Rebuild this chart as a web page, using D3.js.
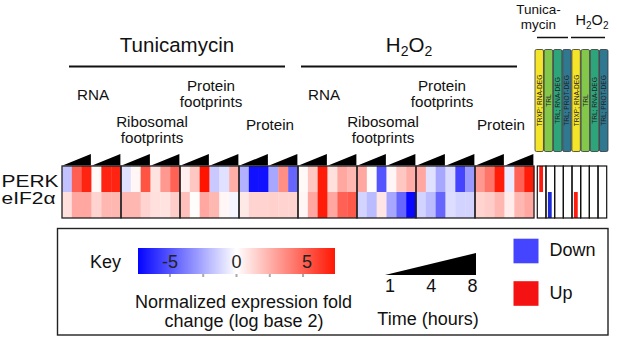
<!DOCTYPE html>
<html><head><meta charset="utf-8">
<script src="https://cdn.jsdelivr.net/npm/d3@7"></script>
<style>body{margin:0;background:#fff} svg{display:block;font-family:"Liberation Sans",Arial,sans-serif}</style>
</head><body><svg id="c" width="617" height="337"></svg>
<script>
// ---------- data ----------
const treatments = ["Tunicamycin", "H2O2"];
const dataTypes = ["RNA", "Ribosomal footprints", "Protein footprints", "Protein"];
const timePoints = [1, 4, 8];
const seriesPerType = 2;
const genes = ["PERK", "eIF2α"];
// log2 fold change, 48 columns: treatment x dataType x series x time
const perkValues = [
  -1.8, 5.1, 7.0,   0.2, 7.0, 7.0,
  -0.9, 0.3, 5.5,   0.9, 3.3, 5.0,
   0.5, 1.8, 7.5,  -1.6, -0.9, 2.6,
  -2.3, -7.0, -7.0, -2.6, 3.6, -4.5,
   0.2, 1.8, 7.2,   1.0, 2.8, 2.3,
   2.8, 0.1, -5.0,  0.3, 1.8, 2.6,
   2.8, -0.9, -2.6, -1.1, -5.5, -3.0,
   3.3, 4.4, 7.2,  -0.6, 5.0, 7.2
];
const eif2aValues = [
   1.0, 2.8, 2.8,   1.4, 2.3, 2.3,
   2.3, 2.3, 1.4,   1.0, 0.9, 1.6,
   2.0, 0.1, 2.8,   2.3, 0.3, -0.3,
   0.7, 1.4, 1.4,   1.5, 1.4, 1.4,
   0.3, 2.8, 7.2,   2.8, 5.0, 5.3,
  -1.3, -2.0, 0.8, -2.6, -4.5, -7.3,
  -1.3, -2.0, -4.5, -1.0, -1.3, -1.3,
   1.4, 1.6, 2.3,   0.6, 2.3, 2.8
];
const callCategories = ["TRXP; RNA-DEG", "TRL", "TRL; RNA-DEG", "TRL; PROT-DEG"];
const callTreatments = [["Tunica-", "mycin"], ["H2O2"]];
const perkCalls  = ["Up", null, null, null, null, null, null, null];
const eif2aCalls = [null, "Down", null, null, "Up", null, null, null];
const keyTicks = [-5, -2.5, 0, 2.5, 5];
const keyLabels = [-5, 0, 5];
const timeLabels = [1, 4, 8];
const legendItems = ["Down", "Up"];

// ---------- setup ----------
const svg = d3.select("#c");
const nCols = treatments.length * dataTypes.length * seriesPerType * timePoints.length;
const nGroups = treatments.length * dataTypes.length;

const xCol = d3.scaleBand().domain(d3.range(nCols)).range([62, 534]);
const xGroup = d3.scaleBand().domain(d3.range(nGroups)).range([62, 534]);
const xTreat = d3.scaleBand().domain(treatments).range([62, 534]);
const yRow = d3.scaleBand().domain(genes).range([166, 218]);
const color = d3.scaleLinear().domain([-7.5, 0, 7.5]).range(["#0000ff", "#ffffff", "#ff1400"]).clamp(true);

const rowValues = {"PERK": perkValues, "eIF2α": eif2aValues};

// helper: text with subscript 2 for H2O2
function chemText(sel, label, subSize) {
  if (label === "H2O2") {
    sel.append("tspan").text("H");
    sel.append("tspan").attr("font-size", subSize).attr("dy", subSize * 0.35).text("2");
    sel.append("tspan").attr("dy", -subSize * 0.35).text("O");
    sel.append("tspan").attr("font-size", subSize).attr("dy", subSize * 0.35).text("2");
  } else sel.text(label);
}

// ---------- treatment headers ----------
const treatShift = [-3, -7];
treatments.forEach((t, i) => {
  const cx = xTreat(t) + xTreat.bandwidth() / 2 + treatShift[i];
  const tx = svg.append("text").attr("x", cx).attr("y", 51.5).attr("text-anchor", "middle")
    .attr("font-size", 20.5).attr("fill", "#111");
  chemText(tx, t, 14);
  svg.append("line").attr("x1", cx - 108).attr("x2", cx + 108).attr("y1", 66.5).attr("y2", 66.5)
    .attr("stroke", "#111").attr("stroke-width", 1.8);
});

// ---------- data type labels ----------
const typeLines = {"RNA": ["RNA"], "Ribosomal footprints": ["Ribosomal", "footprints"],
                   "Protein footprints": ["Protein", "footprints"], "Protein": ["Protein"]};
const typeBaseline = {"RNA": 100, "Ribosomal footprints": 127, "Protein footprints": 91, "Protein": 130};
const labelShift = [1.5, -3.5];
d3.range(nGroups).forEach(g => {
  const ti = Math.floor(g / dataTypes.length);
  const dt = dataTypes[g % dataTypes.length];
  const cx = xGroup(g) + xGroup.bandwidth() / 2 + labelShift[ti];
  const tx = svg.append("text").attr("x", cx).attr("y", typeBaseline[dt]).attr("text-anchor", "middle")
    .attr("font-size", 15.2).attr("fill", "#111");
  typeLines[dt].forEach((l, j) => tx.append("tspan").attr("x", cx).attr("dy", j ? 16 : 0).text(l));
});

// ---------- time triangles ----------
const half = xGroup.bandwidth() / seriesPerType;
d3.range(nGroups).forEach(g => {
  d3.range(seriesPerType).forEach(s => {
    const x0 = xGroup(g) + s * half + 0.6, x1 = x0 + half - 1.2;
    svg.append("path").attr("d", `M${x0},165.5L${x1},165.5L${x1},154Z`).attr("fill", "#000");
  });
});

// ---------- heatmap ----------
genes.forEach(gene => {
  svg.selectAll(null).data(rowValues[gene]).enter().append("rect")
    .attr("x", (d, i) => xCol(i)).attr("width", xCol.bandwidth() + 0.3)
    .attr("y", yRow(gene)).attr("height", yRow.bandwidth())
    .attr("fill", d => color(d));
});
svg.selectAll(null).data(d3.range(nGroups)).enter().append("rect")
  .attr("x", g => xGroup(g)).attr("width", xGroup.bandwidth())
  .attr("y", 166).attr("height", 52).attr("fill", "none").attr("stroke", "#222").attr("stroke-width", 1.3);

// row labels
const rowBase = {"PERK": 186.5, "eIF2α": 204};
const rowLen = {"PERK": 57, "eIF2α": 54};
genes.forEach(gene => {
  svg.append("text").attr("x", 1.5).attr("y", rowBase[gene]).attr("font-size", 16.5).attr("fill", "#111")
    .attr("textLength", rowLen[gene]).attr("lengthAdjust", "spacingAndGlyphs").text(gene);
});

// ---------- right panel ----------
const callCols = d3.range(callTreatments.length * callCategories.length);
const barColors = ["#f4e42a", "#84c84b", "#2ea47a", "#2f7890"];
const xBar = d3.scaleBand().domain(callCols).range([535, 608]).paddingInner(0.08);
svg.selectAll(null).data(callCols).enter().append("rect")
  .attr("x", i => xBar(i)).attr("width", xBar.bandwidth()).attr("y", 49.5).attr("height", 102)
  .attr("rx", 1.5).attr("fill", i => barColors[i % callCategories.length])
  .attr("stroke", "#333").attr("stroke-width", 0.8);
svg.selectAll(null).data(callCols).enter().append("text")
  .attr("transform", i => `translate(${xBar(i) + xBar.bandwidth() / 2},100.5) rotate(-90)`)
  .attr("text-anchor", "middle").attr("dominant-baseline", "central")
  .attr("font-size", 6.6).attr("fill", "#222").text(i => callCategories[i % callCategories.length]);

// right headers
const ctCenters = [538.5, 592];
const ulines = [[537, 568], [571, 605]];
callTreatments.forEach((lines, i) => {
  if (lines.length === 2) {
    svg.append("text").attr("x", ctCenters[i]).attr("y", 14).attr("text-anchor", "middle")
      .attr("font-size", 13.5).attr("fill", "#111").text(lines[0]);
    svg.append("text").attr("x", ctCenters[i]).attr("y", 29).attr("text-anchor", "middle")
      .attr("font-size", 13.5).attr("fill", "#111").text(lines[1]);
  } else {
    const tx = svg.append("text").attr("x", ctCenters[i]).attr("y", 25).attr("text-anchor", "middle")
      .attr("font-size", 14.5).attr("fill", "#111");
    chemText(tx, lines[0], 10);
  }
  svg.append("line").attr("x1", ulines[i][0]).attr("x2", ulines[i][1]).attr("y1", 37.5).attr("y2", 37.5)
    .attr("stroke", "#111").attr("stroke-width", 1.5);
});

// call boxes
const xBox = d3.scaleBand().domain(callCols).range([537.3, 606.7]);
const callColor = {"Up": "#ff1a10", "Down": "#1a2ad8"};
const callRows = {"PERK": perkCalls, "eIF2α": eif2aCalls};
genes.forEach(gene => {
  callRows[gene].forEach((c, i) => {
    if (!c) return;
    svg.append("rect").attr("x", xBox(i) + xBox.bandwidth() / 2 - 2.4).attr("width", 3.8)
      .attr("y", yRow(gene)).attr("height", yRow.bandwidth()).attr("fill", callColor[c]);
  });
});
svg.selectAll(null).data(callCols).enter().append("rect")
  .attr("x", i => xBox(i)).attr("width", xBox.bandwidth()).attr("y", 166).attr("height", 52)
  .attr("fill", "none").attr("stroke", "#111").attr("stroke-width", 1.2);

// ---------- key panel ----------
svg.append("rect").attr("x", 57.5).attr("y", 228.5).attr("width", 550.5).attr("height", 106.5)
  .attr("fill", "none").attr("stroke", "#222").attr("stroke-width", 1.4);
svg.append("text").attr("x", 90).attr("y", 268.3).attr("font-size", 18).attr("fill", "#111").text("Key");

const keyScale = d3.scaleLinear().domain([-7.4, 7.4]).range([138, 335]);
const grad = svg.append("defs").append("linearGradient").attr("id", "kg").attr("x1", "0%").attr("x2", "100%");
d3.range(0, 1.0001, 0.05).forEach(f => {
  const v = -7.4 + 14.8 * f;
  grad.append("stop").attr("offset", (f * 100) + "%").attr("stop-color", color(v));
});
svg.append("rect").attr("x", 138).attr("y", 248).attr("width", 197).attr("height", 26).attr("fill", "url(#kg)");
svg.selectAll(null).data(keyTicks).enter().append("rect")
  .attr("x", d => keyScale(d) - 1).attr("width", 2).attr("y", 274).attr("height", 3).attr("fill", "#aaa");
svg.selectAll(null).data(keyLabels).enter().append("text")
  .attr("x", d => keyScale(d) + (d > 0 ? 4 : 0)).attr("y", 268.3).attr("text-anchor", "middle")
  .attr("font-size", 18).attr("fill", "#222").text(d => d);
const kt = svg.append("text").attr("x", 243.5).attr("y", 308.3).attr("text-anchor", "middle")
  .attr("font-size", 18).attr("fill", "#111");
kt.append("tspan").attr("x", 243.5).text("Normalized expression fold");
kt.append("tspan").attr("x", 244).attr("dy", 18.4).text("change (log base 2)");

// time key
const tScale = d3.scalePoint().domain(timeLabels).range([390, 472.5]);
svg.append("path").attr("d", `M385,275L476,275L476,253Z`).attr("fill", "#000");
svg.selectAll(null).data(timeLabels).enter().append("text")
  .attr("x", d => tScale(d)).attr("y", 291.7).attr("text-anchor", "middle")
  .attr("font-size", 18).attr("fill", "#111").text(d => d);
svg.append("text").attr("x", 428).attr("y", 325).attr("text-anchor", "middle")
  .attr("font-size", 18).attr("fill", "#111").text("Time (hours)");

// legend
const legColor = {"Down": "#4545ff", "Up": "#f41212"};
const yLeg = d3.scalePoint().domain(legendItems).range([251, 293.5]);
legendItems.forEach(l => {
  svg.append("rect").attr("x", 513.5).attr("y", yLeg(l) - 12.3).attr("width", 25).attr("height", 24.6)
    .attr("fill", legColor[l]);
  svg.append("text").attr("x", 549.5).attr("y", yLeg(l) + 5.2).attr("font-size", 18).attr("fill", "#111").text(l);
});
</script></body></html>
